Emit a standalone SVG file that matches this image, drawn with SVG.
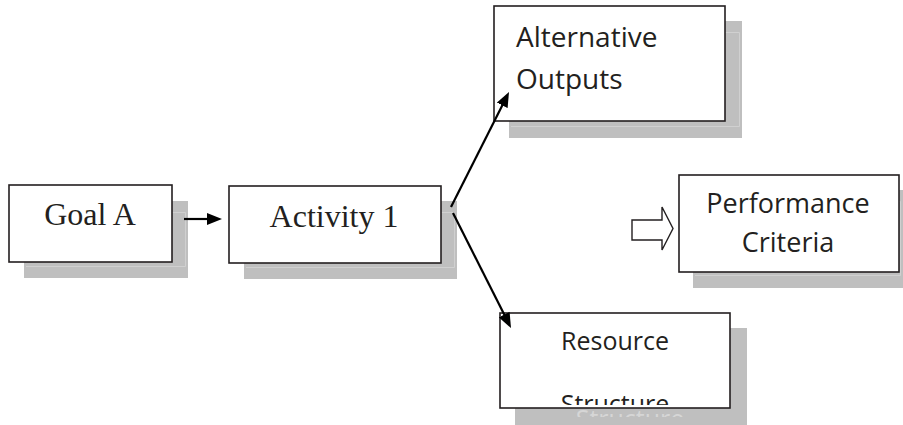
<svg xmlns="http://www.w3.org/2000/svg" width="903" height="425" viewBox="0 0 903 425">
  <style>
    .shadow { fill: #bfbfbf; }
    .sheen { fill: none; stroke: #d0d0d0; stroke-width: 1; }
    .box { fill: #ffffff; stroke: #231f20; stroke-width: 1.6; }
    .serif { font-family: "Liberation Serif", "Times New Roman", serif; font-size: 32px; fill: #231f20; }
    .sans { font-family: "Open Sans", "Noto Sans", sans-serif; fill: #231f20; }
    .ghost { font-family: "Open Sans", "Noto Sans", sans-serif; fill: #d6d6d6; }
    .link { stroke: #000; stroke-width: 2.2; fill: none; }
  </style>
  <defs>
    <marker id="head" markerUnits="userSpaceOnUse" viewBox="0 0 15 12" markerWidth="15" markerHeight="12" refX="5" refY="6" orient="auto">
      <path d="M0,0 L15,6 L0,12 Z" fill="#000"/>
    </marker>
    <clipPath id="clipResource"><rect x="500" y="313" width="230" height="92"/></clipPath>
    <clipPath id="clipResourceShadow"><rect x="515" y="328" width="232" height="89"/></clipPath>
  </defs>
  <rect width="903" height="425" fill="#ffffff"/>

  <!-- Goal A -->
  <g id="goal-a">
    <rect class="shadow" x="24" y="201" width="164" height="77"/>
    <path class="sheen" d="M26,212.5 H185.5 V266.5 H26"/>
    <rect class="box" x="9" y="185" width="163" height="77"/>
    <text class="serif" x="90" y="225" text-anchor="middle">Goal A</text>
  </g>

  <!-- Activity 1 -->
  <g id="activity-1">
    <rect class="shadow" x="244" y="201" width="213" height="78"/>
    <path class="sheen" d="M246,212.5 H454.5 V267.5 H246"/>
    <rect class="box" x="229" y="186" width="212" height="77"/>
    <text class="serif" x="334" y="227" text-anchor="middle">Activity 1</text>
  </g>

  <!-- Alternative Outputs -->
  <g id="alternative-outputs">
    <rect class="shadow" x="509" y="21" width="233" height="117"/>
    <path class="sheen" d="M511,32.5 H739.5 V126.5 H511"/>
    <rect class="box" x="494" y="6" width="231" height="115"/>
    <text class="sans" font-size="28" x="516" y="47">Alternative</text>
    <text class="sans" font-size="28" x="516" y="89">Outputs</text>
  </g>

  <!-- Performance Criteria -->
  <g id="performance-criteria">
    <rect class="shadow" x="693" y="190" width="212" height="98"/>
    <path class="sheen" d="M695,201.5 H900.5 V275.5 H695"/>
    <rect class="box" x="679" y="175" width="220" height="97"/>
    <text class="sans" font-size="27" x="788" y="213" text-anchor="middle">Performance</text>
    <text class="sans" font-size="27" x="788" y="252" text-anchor="middle">Criteria</text>
  </g>

  <!-- Resource Structure -->
  <g id="resource-structure">
    <rect class="shadow" x="515" y="328" width="232" height="97"/>
    <text class="ghost" font-size="25" x="630" y="428" text-anchor="middle" clip-path="url(#clipResourceShadow)">Structure</text>
    <rect class="box" x="500" y="313" width="230" height="95"/>
    <text class="sans" font-size="25" x="615" y="350" text-anchor="middle">Resource</text>
    <text class="sans" font-size="25" x="615" y="413" text-anchor="middle" clip-path="url(#clipResource)">Structure</text>
  </g>

  <!-- connectors -->
  <g id="connectors">
    <line class="link" x1="184" y1="219" x2="212" y2="219" marker-end="url(#head)"/>
    <line class="link" x1="451" y1="207" x2="504.5" y2="100.9" marker-end="url(#head)"/>
    <line class="link" x1="453" y1="213" x2="506.5" y2="319.1" marker-end="url(#head)"/>
    <path d="M632,220 H662 V207 L673,228.5 L662,250 V240 H632 Z" fill="#ffffff" stroke="#231f20" stroke-width="1.4"/>
  </g>
</svg>
